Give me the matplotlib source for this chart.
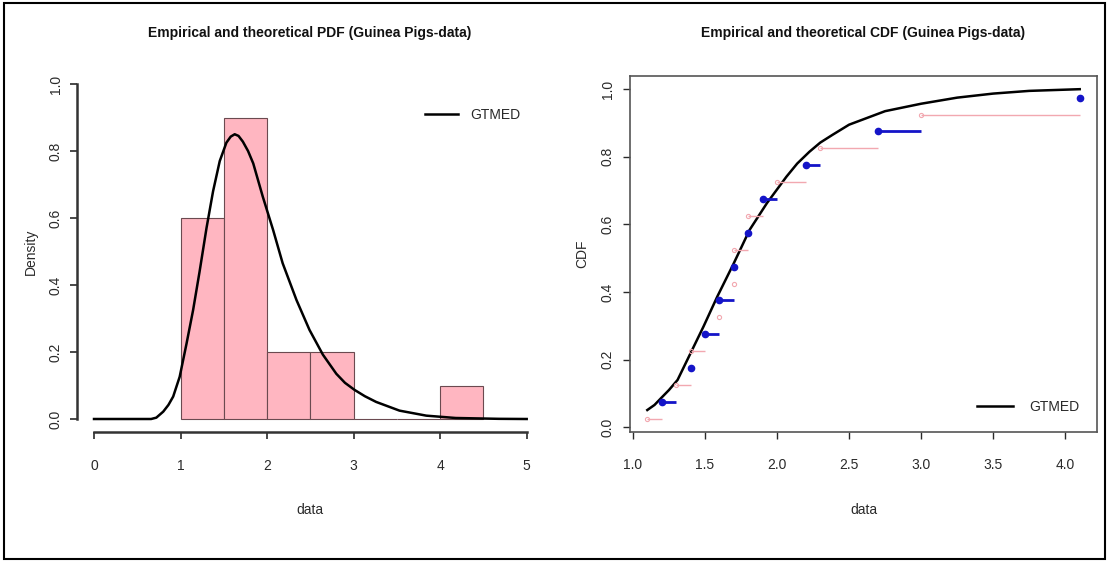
import matplotlib
matplotlib.use("Agg")
import matplotlib.pyplot as plt
from matplotlib.lines import Line2D
from matplotlib.patches import Rectangle

plt.rcParams['font.family'] = ['Liberation Sans', 'DejaVu Sans']

# guinea pigs data (sorted)
data = [1.1, 1.2, 1.3, 1.4, 1.4, 1.5, 1.6, 1.6, 1.7, 1.7,
        1.7, 1.8, 1.8, 1.9, 2.0, 2.2, 2.3, 2.7, 3.0, 4.1]
ecdf_y = [0.025, 0.075, 0.125, 0.175, 0.225, 0.275, 0.325, 0.375, 0.425, 0.475,
          0.525, 0.575, 0.625, 0.675, 0.725, 0.775, 0.825, 0.875, 0.925, 0.975]

# histogram (density) bins
bin_left = [1.0, 1.5, 2.0, 2.5, 3.0, 3.5, 4.0]
hist_density = [0.6, 0.9, 0.2, 0.2, 0.0, 0.0, 0.1]

# fitted GTMED pdf
pdf_x = [0.0, 0.66, 0.72, 0.80, 0.86, 0.915, 0.99, 1.07, 1.145, 1.22, 1.30, 1.376,
         1.453, 1.53, 1.58, 1.626, 1.67, 1.72, 1.78, 1.84, 1.95, 2.07, 2.18, 2.34,
         2.49, 2.645, 2.80, 2.90, 3.01, 3.13, 3.26, 3.53, 3.84, 4.18, 4.68, 5.0]
pdf_y = [0.0, 0.0, 0.004, 0.022, 0.042, 0.067, 0.126, 0.226, 0.325, 0.44, 0.57, 0.68,
         0.77, 0.825, 0.843, 0.85, 0.845, 0.828, 0.80, 0.763, 0.664, 0.564, 0.465, 0.355,
         0.266, 0.192, 0.135, 0.108, 0.087, 0.068, 0.051, 0.025, 0.010, 0.003, 0.0005, 0.0]

# fitted GTMED cdf
cdf_x = [1.1, 1.15, 1.195, 1.25, 1.31, 1.40, 1.49, 1.585, 1.70, 1.81, 1.93, 2.065,
         2.14, 2.225, 2.30, 2.385, 2.5, 2.75, 3.0, 3.25, 3.5, 3.75, 4.1]
cdf_y = [0.051, 0.066, 0.086, 0.11, 0.14, 0.219, 0.298, 0.386, 0.485, 0.584, 0.663, 0.741,
         0.78, 0.815, 0.842, 0.865, 0.895, 0.935, 0.957, 0.975, 0.987, 0.995, 1.0]

W, H = 1108, 562
fig = plt.figure(figsize=(W / 100, H / 100), dpi=100)

txt = '#2a2a2a'
ax1 = fig.add_axes([76.7 / W, 1 - 432.4 / H, 467.3 / W, 361.8 / H])
ax2 = fig.add_axes([630 / W, 1 - 432 / H, 467 / W, 356 / H])

# ---- PDF panel
ax1.bar(bin_left, hist_density, width=0.5, align='edge', color='#FFB6C1',
        edgecolor='#6b4a50', linewidth=0.8, zorder=1)
ax1.plot(pdf_x, pdf_y, color='black', lw=1.8, zorder=3)
ax1.set_xlim(-0.2, 5.2)
ax1.set_ylim(-0.04, 1.04)
for s in ['top', 'right']:
    ax1.spines[s].set_visible(False)
ax1.spines['left'].set_bounds(0, 1)
ax1.spines['bottom'].set_bounds(0, 5)
for s in ['left', 'bottom']:
    ax1.spines[s].set_linewidth(1.8)
    ax1.spines[s].set_color('#333333')
ax1.set_xticks([0, 1, 2, 3, 4, 5])
ax1.set_xticklabels(['0', '1', '2', '3', '4', '5'])
yt = [0.0, 0.2, 0.4, 0.6, 0.8, 1.0]
ax1.set_yticks(yt)
ax1.set_yticklabels(['0.0', '0.2', '0.4', '0.6', '0.8', '1.0'], rotation=90, va='center')
ax1.tick_params(axis='x', length=5, width=1.2, pad=14, labelsize=10, colors=txt)
ax1.tick_params(axis='y', length=5, width=1.2, pad=5, labelsize=10, colors=txt)
ax1.set_xlabel('data', fontsize=10, color=txt, labelpad=22)
ax1.set_ylabel('Density', fontsize=10, color=txt, labelpad=8)
ax1.legend(handles=[Line2D([], [], color='black', lw=1.8)], labels=['GTMED'],
           loc='center left', bbox_to_anchor=(0.73, 0.877), frameon=False,
           borderpad=0, handlelength=2.4, handletextpad=0.9, fontsize=10,
           labelcolor=txt)

# ---- CDF panel
blue = '#1414c8'
pink = '#f2a8b0'
ecdf_end = data[1:] + data[-1:]
ax2.plot(cdf_x, cdf_y, color='black', lw=1.8, zorder=2)
ax2.hlines(ecdf_y[0::2], data[0::2], ecdf_end[0::2], colors=pink, lw=1.0, zorder=3)
ax2.plot(data[0::2], ecdf_y[0::2], 'o', ms=3, mfc='none', mec=pink, mew=0.8, zorder=3)
ax2.hlines(ecdf_y[1::2], data[1::2], ecdf_end[1::2], colors=blue, lw=2.0, zorder=4)
ax2.plot(data[1::2], ecdf_y[1::2], 'o', ms=4.5, color=blue, zorder=4)
ax2.set_xlim(0.98, 4.22)
ax2.set_ylim(-0.014, 1.039)
for s in ax2.spines.values():
    s.set_linewidth(1.2)
    s.set_color('#555555')
ax2.set_xticks([1.0, 1.5, 2.0, 2.5, 3.0, 3.5, 4.0])
ax2.set_xticklabels(['1.0', '1.5', '2.0', '2.5', '3.0', '3.5', '4.0'])
ax2.set_yticks(yt)
ax2.set_yticklabels(['0.0', '0.2', '0.4', '0.6', '0.8', '1.0'], rotation=90, va='center')
ax2.tick_params(axis='x', length=5, width=1.0, pad=14, labelsize=10, colors=txt)
ax2.tick_params(axis='y', length=5, width=1.0, pad=6, labelsize=10, colors=txt)
ax2.set_xlabel('data', fontsize=10, color=txt, labelpad=22)
ax2.set_ylabel('CDF', fontsize=10, color=txt, labelpad=8)
ax2.legend(handles=[Line2D([], [], color='black', lw=1.8)], labels=['GTMED'],
           loc='center left', bbox_to_anchor=(0.728, 0.07), frameon=False,
           borderpad=0, handlelength=2.6, handletextpad=1.2, fontsize=10,
           labelcolor=txt)

# titles
fig.text(310 / W, 1 - 33 / H, 'Empirical and theoretical PDF (Guinea Pigs-data)',
         ha='center', va='center', fontsize=10, fontweight='bold', color='#111111')
fig.text(863.5 / W, 1 - 33 / H, 'Empirical and theoretical CDF (Guinea Pigs-data)',
         ha='center', va='center', fontsize=10, fontweight='bold', color='#111111')

# outer frame
fig.add_artist(Rectangle((4 / W, 3 / H), 1101 / W, 556 / H, transform=fig.transFigure,
                         fill=False, ec='black', lw=1.5))

fig.savefig('out.png', dpi=100)
